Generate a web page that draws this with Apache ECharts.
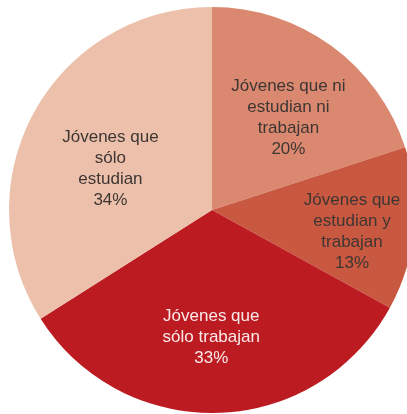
<!DOCTYPE html>
<html>
<head>
<meta charset="utf-8">
<script src="https://cdn.jsdelivr.net/npm/echarts@6/dist/echarts.min.js"></script>
<style>
  html, body { margin: 0; padding: 0; background: #ffffff; }
  #chart { width: 407px; height: 414px; }
</style>
</head>
<body>
<div id="chart"></div>
<script>
// Youth by study / work status, share in percent (clockwise from the top)
const categories = [
  'Jóvenes que ni\nestudian ni\ntrabajan',
  'Jóvenes que\nestudian y\ntrabajan',
  'Jóvenes que\nsólo trabajan',
  'Jóvenes que\nsólo\nestudian'
];
const shares = [20, 13, 33, 34];
const sliceColors = ['#db8870', '#c95841', '#bb1b21', '#ecc0ab'];
const labelColors = ['#3d3633', '#3d3633', '#fbeaea', '#3d3633'];
// nudges for the in-slice labels
const labelOffsets = [[15, -8], [36, 12], [-4, 23], [-10, 9]];

const chart = echarts.init(document.getElementById('chart'));
chart.setOption({
  animation: false,
  series: [{
    type: 'pie',
    center: [212, 210],
    radius: 203,
    startAngle: 90,
    clockwise: true,
    silent: true,
    itemStyle: { borderWidth: 0 },
    label: {
      show: true,
      position: 'inside',
      formatter: '{b}\n{c}%',
      fontFamily: 'Liberation Sans, Arial, sans-serif',
      fontSize: 17,
      lineHeight: 21,
      align: 'center'
    },
    labelLine: { show: false },
    data: categories.map((name, i) => ({
      name: name,
      value: shares[i],
      itemStyle: { color: sliceColors[i] },
      label: { color: labelColors[i], offset: labelOffsets[i] }
    }))
  }]
});
</script>
</body>
</html>
